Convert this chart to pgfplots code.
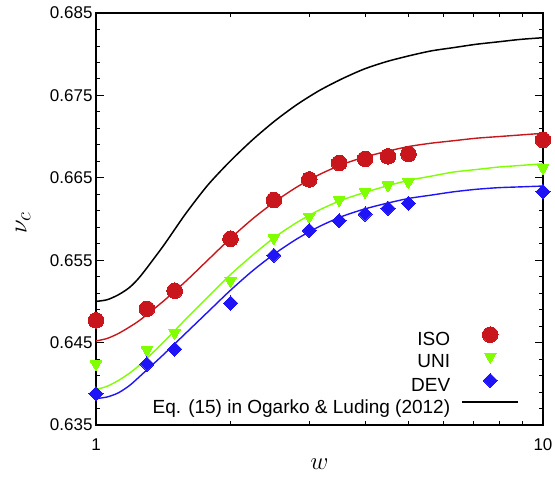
\documentclass[border=0pt]{standalone}
\usepackage{fontspec}
\setmainfont{Liberation Sans}
\usepackage{pgfplots}
\pgfplotsset{compat=1.18}
\definecolor{isored}{RGB}{200,22,28}
\definecolor{unigreen}{RGB}{128,255,0}
\definecolor{devblue}{RGB}{30,20,245}
\pgfplotsset{
  markleg/.style={legend image code/.code={\draw[##1, only marks] plot coordinates {(28pt,6.2pt)};}},
  lineleg/.style={legend image code/.code={\draw[##1] (0pt,6.2pt) -- (56pt,6.2pt);}},
}
\begin{document}
\begin{tikzpicture}
\begin{axis}[
  scale only axis,
  width=447pt, height=412pt,
  xmode=log, log basis x=10,
  xmin=1, xmax=10, ymin=0.635, ymax=0.685,
  xtick={1,10}, xticklabels={1,10},
  minor xtick={2,3,4,5,6,7,8,9},
  ytick={0.635,0.645,0.655,0.665,0.675,0.685},
  minor y tick num=4,
  major tick length=8pt, minor tick length=4pt,
  every tick/.style={line width=0.9pt, black},
  axis line style={line width=1.2pt},
  tick align=inside,
  /pgf/number format/assume math mode=true,
  yticklabel style={font=\fontsize{17}{17}\selectfont, /pgf/number format/fixed, /pgf/number format/fixed zerofill, /pgf/number format/precision=3},
  xticklabel style={font=\fontsize{17}{17}\selectfont, anchor=center, yshift=-20pt},
  scaled y ticks=false,
  xlabel={$w$}, ylabel={$\nu_c$},
  xlabel style={font=\fontsize{26}{26}\selectfont, at={(axis description cs:0.5,-0.095)}, anchor=center},
  ylabel style={font=\fontsize{30}{30}\selectfont, at={(axis description cs:-0.163,0.49)}, anchor=center},
  clip=false,
  legend cell align=right,
  legend plot pos=right,
  legend style={at={(0.9463,0.014)}, anchor=south east, draw=none, fill=none,
    inner sep=0pt, outer sep=0pt, font=\fontsize{19}{19}\selectfont,
    column sep=11.3pt, row sep=0pt,
    nodes={text height=13pt, text depth=3.7pt, inner ysep=2.5pt, inner xsep=0pt}},
]
% fitted curves
\addplot[isored, line width=1.4pt, smooth, tension=0.45, forget plot] coordinates {
(1,0.6452) (1.059,0.6455) (1.122,0.6461) (1.189,0.6469) (1.259,0.6478) (1.413,0.6500) (1.585,0.6524)
(1.778,0.6550) (1.995,0.6576) (2.239,0.6600) (2.512,0.6621) (2.818,0.6639)
(3.162,0.6654) (3.548,0.6666) (3.981,0.6675) (4.467,0.6682) (5.012,0.6688)
(5.623,0.6692) (6.310,0.6695) (7.079,0.6698) (7.943,0.6700) (8.913,0.6702)
(10,0.6704)};
\addplot[unigreen, line width=1.4pt, smooth, tension=0.45, forget plot] coordinates {
(1,0.6393) (1.059,0.6397) (1.122,0.6404) (1.189,0.6413) (1.259,0.6424) (1.413,0.6450) (1.585,0.6478)
(1.778,0.6505) (1.995,0.6532) (2.239,0.6556) (2.512,0.6578) (2.818,0.6596)
(3.162,0.6611) (3.548,0.6623) (3.981,0.6632) (4.467,0.6640) (5.012,0.6647)
(5.623,0.6652) (6.310,0.6657) (7.079,0.6660) (7.943,0.6663) (8.913,0.6665)
(10,0.6667)};
\addplot[devblue, line width=1.4pt, smooth, tension=0.45, forget plot] coordinates {
(1,0.6382) (1.059,0.6384) (1.122,0.6389) (1.189,0.6398) (1.259,0.6410) (1.413,0.6435) (1.585,0.6461)
(1.778,0.6487) (1.995,0.6513) (2.239,0.6537) (2.512,0.6558) (2.818,0.6576)
(3.162,0.6591) (3.548,0.6603) (3.981,0.6612) (4.467,0.6619) (5.012,0.6625)
(5.623,0.6629) (6.310,0.6633) (7.079,0.6636) (7.943,0.6638) (8.913,0.6639)
(10,0.6640)};
% data points
\addplot[isored, only marks, mark=*, mark size=7.8pt, mark options={draw=isored, fill=isored, line width=0pt}, markleg]
 coordinates {
(1,0.6477) (1.3,0.6491) (1.5,0.6513) (2,0.6576) (2.5,0.6623) (3,0.6648)
(3.5,0.6668) (4,0.6673) (4.5,0.6676) (5,0.6679) (10,0.6696)};
\addlegendentry{ISO}
\addplot[unigreen, only marks, mark=triangle*, mark size=6.7pt, mark options={draw=unigreen, fill=unigreen, line width=0pt, rotate=180}, markleg]
 coordinates {
(1,0.6424) (1.3,0.6441) (1.5,0.6462) (2,0.6525) (2.5,0.6577) (3,0.6603)
(3.5,0.6623) (4,0.6633) (4.5,0.6641) (5,0.6645) (10,0.6662)};
\addlegendentry{UNI}
\addplot[devblue, only marks, mark=square*, mark size=5pt, mark options={draw=devblue, fill=devblue, line width=0pt, rotate=45}, markleg]
 coordinates {
(1,0.6388) (1.3,0.6424) (1.5,0.6442) (2,0.6498) (2.5,0.6556) (3,0.6586)
(3.5,0.6598) (4,0.6606) (4.5,0.6613) (5,0.6619) (10,0.6633)};
\addlegendentry{DEV}
\addplot[black, line width=1.5pt, smooth, tension=0.45, lineleg] coordinates {
(1,0.6500) (1.059,0.6502) (1.122,0.6508) (1.189,0.6517) (1.259,0.6531) (1.413,0.6567) (1.585,0.6606)
(1.778,0.6641) (1.995,0.6670) (2.239,0.6696) (2.512,0.6719) (2.818,0.6739)
(3.162,0.6756) (3.548,0.6770) (3.981,0.6782) (4.467,0.6791) (5.012,0.6798)
(5.623,0.6804) (6.310,0.6808) (7.079,0.6812) (7.943,0.6815) (8.913,0.6818)
(10,0.6820)};
\addlegendentry{Eq. (15) in Ogarko \& Luding (2012)}
\coordinate (LL) at (rel axis cs:0,0);
\coordinate (UR) at (rel axis cs:1,1);
\end{axis}
\pgfresetboundingbox
\path[use as bounding box] ([shift={(-96pt,-54pt)}]LL) rectangle ([shift={(12pt,13pt)}]UR);
\end{tikzpicture}
\end{document}
